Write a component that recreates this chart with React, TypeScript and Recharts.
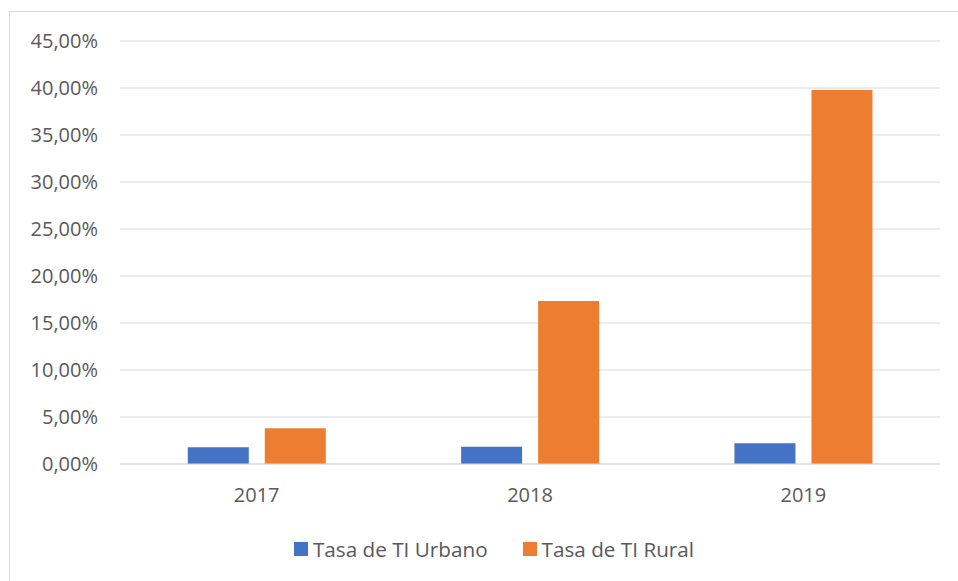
import { BarChart, Bar, XAxis, YAxis, CartesianGrid, Legend } from 'recharts'

// values (percent)
const years = ['2017', '2018', '2019']
const urbano = [1.78, 1.84, 2.2]
const rural = [3.8, 17.34, 39.8]
const yTicks = [0, 5, 10, 15, 20, 25, 30, 35, 40, 45]

const seriesNames = ['Tasa de TI Urbano', 'Tasa de TI Rural']
const colors = ['#4472C4', '#ED7D31']

const data = years.map((year, i) => ({ year, urbano: urbano[i], rural: rural[i] }))

const FONT = '"Open Sans", sans-serif'
const TEXT = '#595959'

const fmt = (v: number) => v.toFixed(2).replace('.', ',') + '%'

function LegendContent() {
  return (
    <div style={{ display: 'flex', justifyContent: 'center', alignItems: 'center', height: 30, paddingLeft: 28, fontFamily: FONT, fontSize: 20.7, color: TEXT }}>
      {seriesNames.map((name, i) => (
        <div key={name} style={{ display: 'flex', alignItems: 'center', marginRight: i === 0 ? 35 : 0 }}>
          <span style={{ display: 'inline-block', width: 14, height: 14, background: colors[i], marginRight: 5 }} />
          <span>{name}</span>
        </div>
      ))}
    </div>
  )
}

export default function App() {
  return (
    <div style={{ position: 'absolute', left: 0, top: 0, width: 958, height: 581, overflow: 'hidden', background: '#fff' }}>
      <div style={{ position: 'absolute', left: 9, top: 11, width: 1000, height: 1000, border: '1px solid #d9d9d9' }} />
      <BarChart
        width={958}
        height={581}
        data={data}
        margin={{ top: 41, right: 18, bottom: 17, left: 20 }}
        barCategoryGap="24.8%"
        barGap={16}
        style={{ position: 'absolute', left: 0, top: 0 }}
      >
        <CartesianGrid vertical={false} stroke="#d9d9d9" strokeWidth={1} />
        <XAxis
          dataKey="year"
          height={70}
          axisLine={{ stroke: '#d9d9d9' }}
          tickLine={false}
          tickSize={0}
          tickMargin={24}
          tick={{ fill: TEXT, fontSize: 20, fontFamily: FONT }}
        />
        <YAxis
          width={100}
          domain={[0, 45]}
          ticks={yTicks}
          tickFormatter={fmt}
          axisLine={false}
          tickLine={false}
          tickSize={0}
          tickMargin={22}
          tick={{ fill: TEXT, fontSize: 20, fontFamily: FONT }}
        />
        <Legend verticalAlign="bottom" height={30} content={<LegendContent />} />
        <Bar dataKey="urbano" name={seriesNames[0]} fill={colors[0]} isAnimationActive={false} />
        <Bar dataKey="rural" name={seriesNames[1]} fill={colors[1]} isAnimationActive={false} />
      </BarChart>
    </div>
  )
}
